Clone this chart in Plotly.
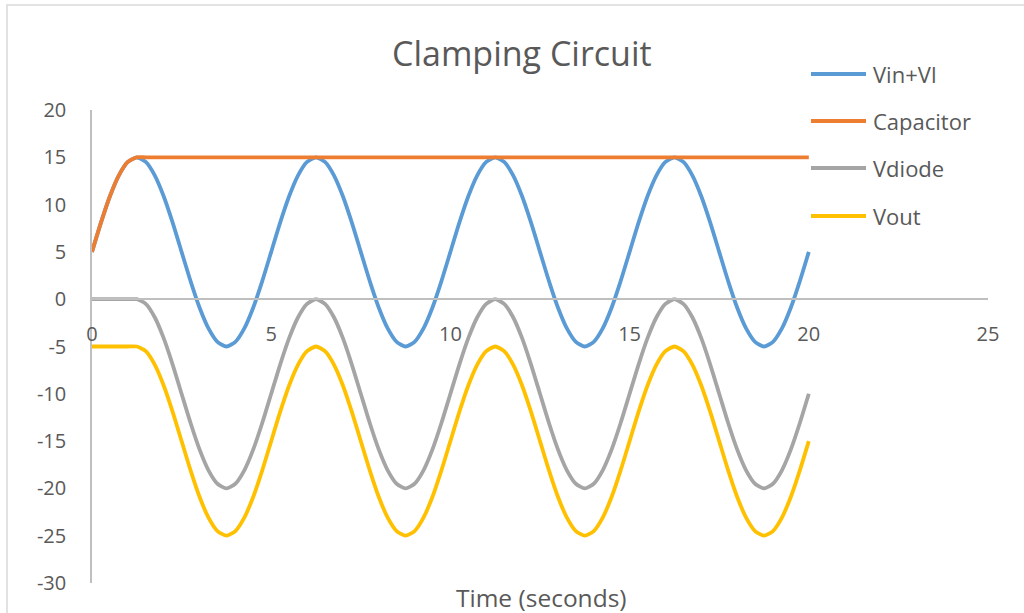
import plotly.graph_objects as go

# Sample times (s)
time = [
    0, 0.25, 0.5, 0.75, 1, 1.25, 1.5, 1.75, 2, 2.25, 2.5, 2.75, 3, 3.25, 3.5, 3.75,
    4, 4.25, 4.5, 4.75, 5, 5.25, 5.5, 5.75, 6, 6.25, 6.5, 6.75, 7, 7.25, 7.5, 7.75,
    8, 8.25, 8.5, 8.75, 9, 9.25, 9.5, 9.75, 10, 10.25, 10.5, 10.75, 11, 11.25, 11.5, 11.75,
    12, 12.25, 12.5, 12.75, 13, 13.25, 13.5, 13.75, 14, 14.25, 14.5, 14.75, 15, 15.25, 15.5, 15.75,
    16, 16.25, 16.5, 16.75, 17, 17.25, 17.5, 17.75, 18, 18.25, 18.5, 18.75, 19, 19.25, 19.5, 19.75, 20,
]

vin_vl = [
    5, 8.09, 10.88, 13.09, 14.51, 15, 14.51, 13.09, 10.88, 8.09, 5, 1.91, -0.88, -3.09, -4.51, -5, -4.51, -3.09, -0.88, 1.91,
    5, 8.09, 10.88, 13.09, 14.51, 15, 14.51, 13.09, 10.88, 8.09, 5, 1.91, -0.88, -3.09, -4.51, -5, -4.51, -3.09, -0.88, 1.91,
    5, 8.09, 10.88, 13.09, 14.51, 15, 14.51, 13.09, 10.88, 8.09, 5, 1.91, -0.88, -3.09, -4.51, -5, -4.51, -3.09, -0.88, 1.91,
    5, 8.09, 10.88, 13.09, 14.51, 15, 14.51, 13.09, 10.88, 8.09, 5, 1.91, -0.88, -3.09, -4.51, -5, -4.51, -3.09, -0.88, 1.91,
    5,
]

capacitor = [
    5, 8.09, 10.88, 13.09, 14.51, 15, 15, 15, 15, 15, 15, 15, 15, 15, 15, 15, 15, 15, 15, 15,
    15, 15, 15, 15, 15, 15, 15, 15, 15, 15, 15, 15, 15, 15, 15, 15, 15, 15, 15, 15,
    15, 15, 15, 15, 15, 15, 15, 15, 15, 15, 15, 15, 15, 15, 15, 15, 15, 15, 15, 15,
    15, 15, 15, 15, 15, 15, 15, 15, 15, 15, 15, 15, 15, 15, 15, 15, 15, 15, 15, 15,
    15,
]

vdiode = [
    0, 0, 0, 0, 0, 0,
    -0.49, -1.91, -4.12, -6.91, -10, -13.09, -15.88, -18.09, -19.51, -20, -19.51, -18.09, -15.88, -13.09, -10, -6.91, -4.12, -1.91, -0.49, 0,
    -0.49, -1.91, -4.12, -6.91, -10, -13.09, -15.88, -18.09, -19.51, -20, -19.51, -18.09, -15.88, -13.09, -10, -6.91, -4.12, -1.91, -0.49, 0,
    -0.49, -1.91, -4.12, -6.91, -10, -13.09, -15.88, -18.09, -19.51, -20, -19.51, -18.09, -15.88, -13.09, -10, -6.91, -4.12, -1.91, -0.49, 0,
    -0.49, -1.91, -4.12, -6.91, -10, -13.09, -15.88, -18.09, -19.51, -20, -19.51, -18.09, -15.88, -13.09, -10,
]

vout = [
    -5, -5, -5, -5, -5, -5,
    -5.49, -6.91, -9.12, -11.91, -15, -18.09, -20.88, -23.09, -24.51, -25, -24.51, -23.09, -20.88, -18.09, -15, -11.91, -9.12, -6.91, -5.49, -5,
    -5.49, -6.91, -9.12, -11.91, -15, -18.09, -20.88, -23.09, -24.51, -25, -24.51, -23.09, -20.88, -18.09, -15, -11.91, -9.12, -6.91, -5.49, -5,
    -5.49, -6.91, -9.12, -11.91, -15, -18.09, -20.88, -23.09, -24.51, -25, -24.51, -23.09, -20.88, -18.09, -15, -11.91, -9.12, -6.91, -5.49, -5,
    -5.49, -6.91, -9.12, -11.91, -15, -18.09, -20.88, -23.09, -24.51, -25, -24.51, -23.09, -20.88, -18.09, -15,
]

series_names = ["Vin+VI", "Capacitor", "Vdiode", "Vout"]
series_values = [vin_vl, capacitor, vdiode, vout]
series_colors = ["#5B9BD5", "#ED7D31", "#A5A5A5", "#FFC000"]

x_ticks = [0, 5, 10, 15, 20, 25]
y_ticks = [20, 15, 10, 5, 0, -5, -10, -15, -20, -25, -30]

# Page geometry
FIG_W, FIG_H = 1024, 613
M_L, M_R, M_T, M_B = 92, 36, 110, 30
PLOT_W = FIG_W - M_L - M_R
PLOT_H = FIG_H - M_T - M_B
Y_MIN, Y_MAX = -30, 20

TEXT = "#595959"
AXIS = "#BFBFBF"
FONT = "Open Sans"


def px_x(px):
    return (px - M_L) / PLOT_W


def px_y(py):
    return (FIG_H - M_B - py) / PLOT_H


fig = go.Figure()
for name, vals, color in zip(series_names, series_values, series_colors):
    fig.add_trace(go.Scatter(
        x=time, y=vals, name=name, mode="lines",
        line=dict(color=color, width=3.8, shape="spline", smoothing=0.6),
        showlegend=False,
    ))

shapes = [
    # outer chart frame
    dict(type="rect", xref="paper", yref="paper",
         x0=px_x(7), x1=px_x(1100), y0=px_y(700), y1=px_y(5),
         line=dict(color="#D9D9D9", width=1.5), fillcolor="rgba(0,0,0,0)", layer="below"),
]
annotations = [
    dict(text="Clamping Circuit", xref="paper", yref="paper",
         x=px_x(522), y=px_y(53), xanchor="center", yanchor="middle",
         showarrow=False, font=dict(family=FONT, size=34, color=TEXT)),
    dict(text="Time (seconds)", xref="paper", yref="paper",
         x=px_x(541), y=px_y(597), xanchor="center", yanchor="middle",
         showarrow=False, font=dict(family=FONT, size=24.5, color=TEXT)),
]

# legend: sample line plus label per series
legend_rows = [74, 121, 168, 216]
for name, color, row in zip(series_names, series_colors, legend_rows):
    shapes.append(dict(type="line", xref="paper", yref="paper",
                       x0=px_x(811), x1=px_x(866), y0=px_y(row), y1=px_y(row),
                       line=dict(color=color, width=4)))
    annotations.append(dict(text=name, xref="paper", yref="paper",
                            x=px_x(871), y=px_y(row), xanchor="left", yanchor="middle",
                            showarrow=False, font=dict(family=FONT, size=22, color=TEXT)))

fig.update_layout(
    width=FIG_W, height=FIG_H,
    margin=dict(l=M_L, r=M_R, t=M_T, b=M_B),
    paper_bgcolor="white", plot_bgcolor="white",
    font=dict(family=FONT, color=TEXT),
    shapes=shapes,
    annotations=annotations,
    xaxis=dict(
        range=[0, 25], tickvals=x_ticks, ticktext=[str(v) for v in x_ticks],
        showgrid=False, zeroline=False, showline=True, linecolor=AXIS, linewidth=1.5,
        ticks="", ticklabelstandoff=17,
        anchor="free", position=(0 - Y_MIN) / (Y_MAX - Y_MIN),
        tickfont=dict(family=FONT, size=20, color=TEXT),
    ),
    yaxis=dict(
        range=[Y_MIN, Y_MAX], tickvals=y_ticks, ticktext=[str(v) for v in y_ticks],
        showgrid=False, zeroline=False, showline=True, linecolor=AXIS, linewidth=1.5,
        ticks="", ticklabelstandoff=20,
        tickfont=dict(family=FONT, size=20, color=TEXT),
    ),
)

fig.write_html("out.html")
